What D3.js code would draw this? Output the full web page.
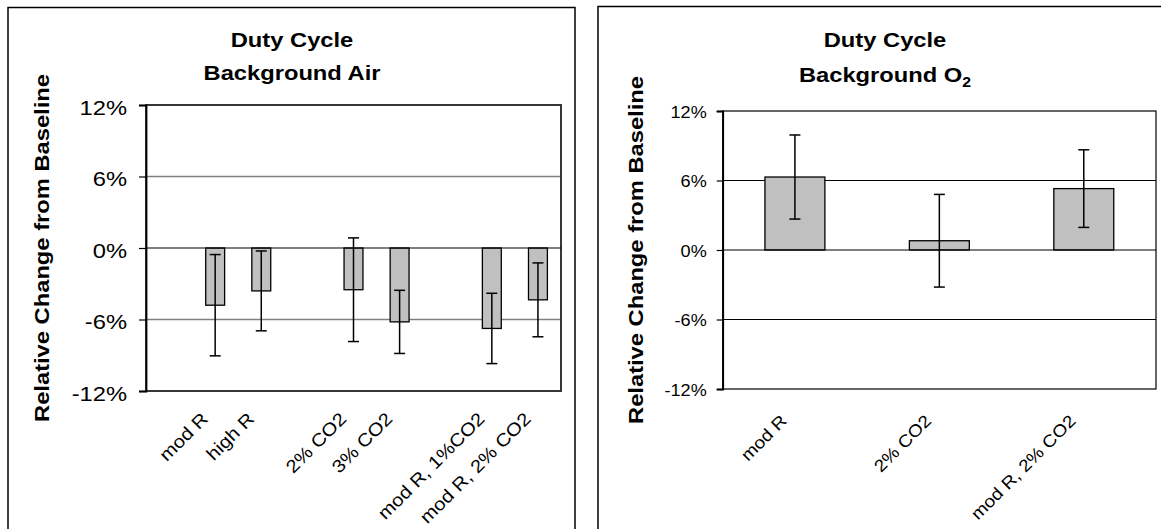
<!DOCTYPE html>
<html><head><meta charset="utf-8">
<script src="https://cdn.jsdelivr.net/npm/d3@7"></script>
<style>body{margin:0;background:#fff;overflow:hidden}text{font-family:"Liberation Sans",Arial,sans-serif;fill:#000}</style>
</head><body><svg id="c" width="1161" height="529"></svg>
<script>
// ---- data ----
const airCategories = ["", "mod R", "high R", "", "2% CO2", "3% CO2", "", "mod R, 1%CO2", "mod R, 2% CO2"];
const airValues = [null, -4.8, -3.6, null, -3.5, -6.2, null, -6.75, -4.35];
const airErrors = [null, 4.25, 3.35, null, 4.35, 2.65, null, 2.95, 3.1];
const o2Categories = ["mod R", "2% CO2", "mod R, 2% CO2"];
const o2Values = [6.3, 0.8, 5.3];
const o2Errors = [3.63, 4.0, 3.35];
const yTickValues = [-12, -6, 0, 6, 12];
const yDomain = [-12, 12];
const titleLine1 = "Duty Cycle";
const yTitle = "Relative Change from Baseline";

const SX = 1.13; // text horizontal stretch of the original picture
const svg = d3.select("#c");

function panel(cfg) {
  const g = svg.append("g");
  g.append("rect").attr("x", cfg.box[0]).attr("y", cfg.box[1]).attr("width", cfg.box[2]).attr("height", cfg.box[3])
    .attr("fill", "#fff").attr("stroke", "#000").attr("stroke-width", 1.5);

  const x = d3.scaleBand().domain(d3.range(cfg.categories.length)).range([cfg.left, cfg.right]).padding(0);
  const y = d3.scaleLinear().domain(yDomain).range([cfg.bottom, cfg.top]);
  const bw = x.bandwidth() * cfg.barFrac;
  const cx = i => x(i) + x.bandwidth() / 2;

  g.append("g").selectAll("line").data(yTickValues.filter(v => v !== 0 && v !== yDomain[0] && v !== yDomain[1]))
    .join("line").attr("x1", cfg.left).attr("x2", cfg.right).attr("y1", d => y(d)).attr("y2", d => y(d))
    .attr("stroke", cfg.gridColor).attr("stroke-width", cfg.gridWidth);

  g.append("rect").attr("x", cfg.left).attr("y", cfg.top).attr("width", cfg.right - cfg.left).attr("height", cfg.bottom - cfg.top)
    .attr("fill", "none").attr("stroke", cfg.frameColor).attr("stroke-width", cfg.frameWidth);

  const idx = d3.range(cfg.categories.length).filter(i => cfg.values[i] !== null);
  g.append("g").selectAll("rect").data(idx).join("rect")
    .attr("x", i => cx(i) - bw / 2).attr("width", bw)
    .attr("y", i => y(Math.max(0, cfg.values[i])))
    .attr("height", i => Math.abs(y(cfg.values[i]) - y(0)))
    .attr("fill", "#c0c0c0").attr("stroke", "#000").attr("stroke-width", 1.3);

  g.append("line").attr("x1", cfg.left).attr("x2", cfg.right).attr("y1", y(0)).attr("y2", y(0))
    .attr("stroke", "#000").attr("stroke-width", 1.2);

  const eb = g.append("g").attr("stroke", "#000").attr("stroke-width", 1.5);
  idx.forEach(i => {
    const hi = y(cfg.values[i] + cfg.errors[i]), lo = y(cfg.values[i] - cfg.errors[i]);
    eb.append("line").attr("x1", cx(i)).attr("x2", cx(i)).attr("y1", hi).attr("y2", lo);
    eb.append("line").attr("x1", cx(i) - 5.5).attr("x2", cx(i) + 5.5).attr("y1", hi).attr("y2", hi);
    eb.append("line").attr("x1", cx(i) - 5.5).attr("x2", cx(i) + 5.5).attr("y1", lo).attr("y2", lo);
  });

  const ya = g.append("g").attr("transform", `translate(${cfg.left},0)`)
    .call(d3.axisLeft(y).tickValues(yTickValues).tickSize(cfg.tickLen).tickPadding(0).tickFormat(d => d + "%"));
  ya.select(".domain").attr("stroke", "#000").attr("stroke-width", 1.8);
  ya.selectAll(".tick line").attr("stroke", "#000").attr("stroke-width", 1.2);
  ya.selectAll(".tick text").attr("font-size", cfg.tickFont).attr("font-family", "Liberation Sans, Arial, sans-serif")
    .attr("x", -(cfg.tickLen + cfg.tickGap) / SX).attr("dy", cfg.tickDy).attr("fill", "#000")
    .attr("transform", `scale(${SX},1)`);

  const xa = g.append("g").attr("transform", `translate(0,${cfg.bottom})`)
    .call(d3.axisBottom(x).tickSize(0).tickFormat(i => cfg.categories[i]));
  xa.select(".domain").remove();
  xa.selectAll(".tick text").attr("font-size", cfg.xFont).attr("font-family", "Liberation Sans, Arial, sans-serif")
    .attr("text-anchor", "end").attr("x", 0).attr("y", 0).attr("dy", 0).attr("fill", "#000")
    .attr("transform", `translate(${cfg.xLabDx},${cfg.xLabDy}) rotate(-45) scale(${SX},1)`);

  g.append("text").attr("transform", `translate(${cfg.yTitleX},${(cfg.top + cfg.bottom) / 2}) rotate(-90) scale(${SX},1)`)
    .attr("text-anchor", "middle").attr("font-size", 21).attr("font-weight", "bold").text(yTitle);

  g.append("text").attr("transform", `translate(${cfg.titleX},${cfg.titleY1}) scale(${SX},1)`)
    .attr("text-anchor", "middle").attr("font-size", 21).attr("font-weight", "bold").text(titleLine1);
  const t2 = g.append("text").attr("transform", `translate(${cfg.titleX},${cfg.titleY2}) scale(${SX},1)`)
    .attr("text-anchor", "middle").attr("font-size", 21).attr("font-weight", "bold");
  t2.append("tspan").text(cfg.title2);
  if (cfg.title2sub) t2.append("tspan").attr("font-size", 14).attr("dy", 5).text(cfg.title2sub);
}

panel({
  box: [8, 7.5, 567, 560],
  categories: airCategories, values: airValues, errors: airErrors,
  left: 146, right: 561, top: 105, bottom: 391, barFrac: 0.41,
  gridColor: "#808080", gridWidth: 1.6, frameColor: "#222", frameWidth: 1.8,
  tickLen: 7, tickGap: 12, tickFont: 21, tickDy: "0.45em",
  xFont: 18, xLabDx: -6, xLabDy: 29,
  yTitleX: 49, titleX: 292, titleY1: 46.7, titleY2: 79.5,
  title2: "Background Air"
});

panel({
  box: [598, 6.5, 600, 560],
  categories: o2Categories, values: o2Values, errors: o2Errors,
  left: 722.7, right: 1156, top: 111, bottom: 389, barFrac: 0.415,
  gridColor: "#000", gridWidth: 1.1, frameColor: "#000", frameWidth: 1.2,
  tickLen: 6, tickGap: 10, tickFont: 16, tickDy: "0.4em",
  xFont: 17, xLabDx: -7, xLabDy: 33,
  yTitleX: 642.5, titleX: 885, titleY1: 47.3, titleY2: 81.5,
  title2: "Background O", title2sub: "2"
});
</script>
</body></html>
